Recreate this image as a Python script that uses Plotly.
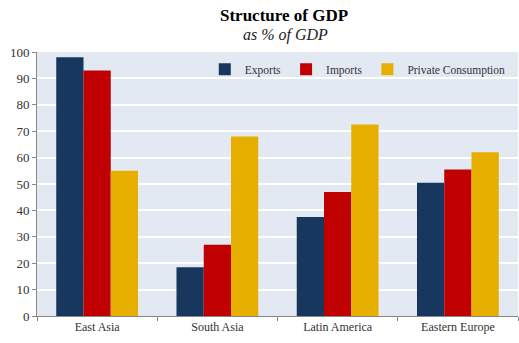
import plotly.graph_objects as go

categories = ["East Asia", "South Asia", "Latin America", "Eastern Europe"]
exports = [98, 18.5, 37.5, 50.5]
imports = [93, 27, 47, 55.5]
private_consumption = [55, 68, 72.5, 62]

colors = {"Exports": "#17375E", "Imports": "#C00000", "Private Consumption": "#E6AF00"}
FONT = "Liberation Serif"


def ypaper(py):
    # plot area spans pixel rows 316 (value 0) to 52 (value 100)
    return (316 - py) / 264


fig = go.Figure()
for name, vals in [("Exports", exports), ("Imports", imports), ("Private Consumption", private_consumption)]:
    fig.add_trace(go.Bar(x=categories, y=vals, name=name,
                         marker=dict(color=colors[name], line=dict(width=0))))

fig.update_layout(
    width=519, height=343,
    margin=dict(l=37, r=1, t=52, b=27),
    paper_bgcolor="white",
    plot_bgcolor="#E3E9F3",
    barmode="group", bargap=0.32, bargroupgap=0,
    font=dict(family=FONT, size=11, color="#333333"),
    legend=dict(orientation="h", x=0.985, xanchor="right", y=0.99, yanchor="top",
                bgcolor="rgba(0,0,0,0)", font=dict(family=FONT, size=11.5, color="#333333"),
                itemwidth=30, traceorder="normal"),
    xaxis=dict(showgrid=False, showline=True, linecolor="#888888", linewidth=1,
               ticks="outside", tickson="boundaries", ticklen=4, tickcolor="#888888",
               tickfont=dict(family=FONT, size=12, color="#333333")),
    yaxis=dict(range=[0, 100], dtick=10, showgrid=True, gridcolor="white", gridwidth=1.5,
               showline=True, linecolor="#888888", linewidth=1, ticks="outside", ticklen=4,
               tickcolor="#888888", zeroline=False,
               tickfont=dict(family=FONT, size=13, color="#333333")),
)

fig.add_annotation(text="<b>Structure of GDP</b>", xref="paper", yref="paper",
                   x=(284 - 37) / 481, y=ypaper(16), showarrow=False,
                   font=dict(family=FONT, size=17, color="black"), xanchor="center", yanchor="middle")
fig.add_annotation(text="<i>as % of GDP</i>", xref="paper", yref="paper",
                   x=(285 - 37) / 481, y=ypaper(35), showarrow=False,
                   font=dict(family=FONT, size=16, color="#222222"), xanchor="center", yanchor="middle")

fig.write_html("out.html")
